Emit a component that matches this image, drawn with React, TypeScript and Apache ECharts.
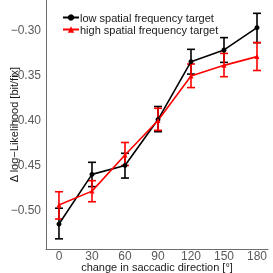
import React, { useEffect, useRef } from "react";
import * as echarts from "echarts";

const directions = [0, 30, 60, 90, 120, 150, 180];
const lowMean = [-0.5156, -0.4604, -0.4505, -0.3995, -0.3352, -0.3222, -0.2974];
const lowLower = [-0.532, -0.474, -0.4645, -0.413, -0.349, -0.336, -0.3141];
const lowUpper = [-0.498, -0.447, -0.437, -0.385, -0.3215, -0.3085, -0.2815];
const highMean = [-0.4944, -0.479, -0.4389, -0.4005, -0.3511, -0.3393, -0.3296];
const highLower = [-0.51, -0.4908, -0.4505, -0.4115, -0.364, -0.3519, -0.345];
const highUpper = [-0.4797, -0.4674, -0.425, -0.387, -0.3378, -0.326, -0.314];
const xTicks = [0, 30, 60, 90, 120, 150, 180];
const yTicks = [-0.5, -0.45, -0.4, -0.35, -0.3];
const seriesNames = ["low spatial frequency target", "high spatial frequency target"];
const colors = ["#000000", "#ff0000"];

const X_MIN = -11.8;
const X_MAX = 190;
const Y_MIN = -0.5433;
const Y_MAX = -0.2667;

const font = "Liberation Sans, Arial, sans-serif";

function errorSeries(lower: number[], upper: number[], color: string) {
  const data = directions.map((d, i) => [d, lower[i], upper[i]]);
  return {
    type: "custom",
    silent: true,
    z: 3,
    data,
    renderItem: (params: any, api: any) => {
      const x = api.value(0);
      const lo = api.coord([x, api.value(1)]);
      const hi = api.coord([x, api.value(2)]);
      const w = 4;
      const style = { stroke: color, lineWidth: 1.6 };
      return {
        type: "group",
        children: [
          { type: "line", shape: { x1: lo[0], y1: lo[1], x2: hi[0], y2: hi[1] }, style },
          { type: "line", shape: { x1: lo[0] - w, y1: lo[1], x2: lo[0] + w, y2: lo[1] }, style },
          { type: "line", shape: { x1: hi[0] - w, y1: hi[1], x2: hi[0] + w, y2: hi[1] }, style },
        ],
      };
    },
  };
}

export default function App() {
  const ref = useRef<HTMLDivElement>(null);
  useEffect(() => {
    const chart = echarts.init(ref.current!, null, { renderer: "svg" });
    const fmt = (v: number) => v.toFixed(2).replace("-", "\u2212");
    chart.setOption({
      animation: false,
      grid: { left: 46, right: 5, top: 0, bottom: 24, containLabel: false, outerBoundsMode: "none" },
      legend: {
        orient: "vertical",
        left: 57,
        top: 7,
        itemGap: 1,
        itemWidth: 16,
        itemHeight: 8,
        textStyle: { fontFamily: font, fontSize: 11, color: "#1a1a1a", padding: [0, 0, 0, -4] },
        data: seriesNames,
      },
      xAxis: {
        type: "value",
        min: X_MIN,
        max: X_MAX,
        name: "change in saccadic direction [°]",
        nameLocation: "middle",
        nameGap: 12,
        nameMoveOverlap: false,
        nameTextStyle: { fontFamily: font, fontSize: 11, color: "#1a1a1a", verticalAlign: "top" },
        axisLine: { show: true, onZero: false, lineStyle: { color: "#6e6e6e", width: 1 } },
        axisTick: { show: false },
        splitLine: { show: false },
        axisLabel: {
          customValues: xTicks,
          fontFamily: font,
          fontSize: 12,
          color: "#595959",
          margin: 1,
        },
      },
      yAxis: {
        type: "value",
        min: Y_MIN,
        max: Y_MAX,
        name: "\u0394 log\u2212Likelihood [bit/fix]",
        nameLocation: "middle",
        nameGap: 27,
        nameMoveOverlap: false,
        nameTextStyle: { fontFamily: font, fontSize: 11, color: "#1a1a1a" },
        axisLine: { show: true, onZero: false, lineStyle: { color: "#6e6e6e", width: 1 } },
        axisTick: { show: false },
        splitLine: { show: false },
        axisLabel: {
          customValues: yTicks,
          formatter: fmt,
          fontFamily: font,
          fontSize: 12,
          color: "#595959",
          margin: 5,
        },
      },
      series: [
        errorSeries(lowLower, lowUpper, colors[0]),
        errorSeries(highLower, highUpper, colors[1]),
        {
          name: seriesNames[0],
          type: "line",
          z: 4,
          data: directions.map((d, i) => [d, lowMean[i]]),
          symbol: "circle",
          symbolSize: 5,
          lineStyle: { color: colors[0], width: 1.6 },
          itemStyle: { color: colors[0] },
        },
        {
          name: seriesNames[1],
          type: "line",
          z: 4,
          data: directions.map((d, i) => [d, highMean[i]]),
          symbol: "triangle",
          symbolSize: 5,
          lineStyle: { color: colors[1], width: 1.6 },
          itemStyle: { color: colors[1] },
        },
      ],
    });
    const p0 = chart.convertToPixel({ gridIndex: 0 } as any, [X_MIN, Y_MIN]) as number[];
    const p1 = chart.convertToPixel({ gridIndex: 0 } as any, [X_MAX, Y_MAX]) as number[];
    if (p0 && p1) {
      const ax = Math.round(p0[0]) + 0.5;
      const ay = Math.round(p0[1]) + 0.5;
      const axisStyle = { stroke: "#6e6e6e", lineWidth: 1 };
      chart.setOption({
        graphic: [
          { type: "line", silent: true, z: 10, shape: { x1: ax, y1: p1[1], x2: ax, y2: ay }, style: axisStyle },
          { type: "line", silent: true, z: 10, shape: { x1: ax, y1: ay, x2: p1[0], y2: ay }, style: axisStyle },
        ],
      });
    }
    return () => chart.dispose();
  }, []);
  return (
    <div
      ref={ref}
      style={{ position: "fixed", left: 0, top: 0, width: 273, height: 273 }}
    />
  );
}
